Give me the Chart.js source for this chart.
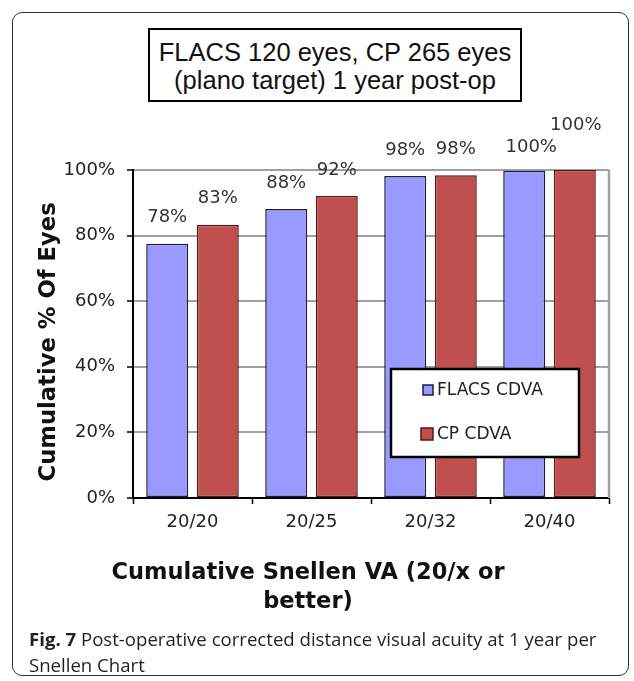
<!DOCTYPE html>
<html>
<head>
<meta charset="utf-8">
<script src="https://cdn.jsdelivr.net/npm/chart.js@4"></script>
<style>
  html, body { margin: 0; padding: 0; background: #fff; }
  body { width: 634px; height: 681px; position: relative; overflow: hidden; }
  #c { position: absolute; left: 0; top: 0; }
  #frame { position: absolute; left: 12px; top: 12px; width: 617px; height: 664px;
           border: 1.5px solid #333; border-radius: 10px; box-sizing: border-box; }
  #titlebox { position: absolute; left: 148px; top: 28px; width: 374px; height: 74px;
              box-sizing: border-box; border: 2px solid #000; background: #fff;
              font-family: "Liberation Sans", Arial, sans-serif; font-size: 25.5px;
              line-height: 28px; text-align: center; padding-top: 8px; color: #111; white-space: nowrap; }
  #caption { position: absolute; left: 29px; top: 626px; width: 600px;
             font-family: "Open Sans", sans-serif; font-size: 18.6px; line-height: 26px; color: #231f20; }
</style>
</head>
<body>
<canvas id="c" width="634" height="681" style="width:634px;height:681px"></canvas>
<div id="frame"></div>
<div id="titlebox">FLACS 120 eyes, CP 265 eyes<br>(plano target) 1 year post-op</div>
<div id="caption"><b>Fig. 7</b> Post-operative corrected distance visual acuity at 1 year per<br>Snellen Chart</div>
<script>
const categories = ["20/20", "20/25", "20/32", "20/40"];
const seriesNames = ["FLACS CDVA", "CP CDVA"];
const flacsValues = [77.5, 88.1, 98.2, 99.8];
const cpValues = [83.3, 92.1, 98.4, 100];
const yTickValues = [0, 20, 40, 60, 80, 100];

Chart.defaults.font.family = "'DejaVu Sans', Verdana, sans-serif";
Chart.defaults.color = '#222';

const labelNudge = [
  [[0, 0], [0, 0], [0, 0], [7, 3]],
  [[0, 0], [0, 0], [0, 0], [1, -19]]
];

const dataLabels = {
  id: 'dataLabels',
  afterDatasetsDraw(chart) {
    const ctx = chart.ctx;
    ctx.save();
    ctx.font = "18px 'DejaVu Sans'";
    ctx.fillStyle = '#333';
    ctx.textAlign = 'center';
    ctx.textBaseline = 'middle';
    chart.data.datasets.forEach((ds, di) => {
      const meta = chart.getDatasetMeta(di);
      meta.data.forEach((el, i) => {
        const n = labelNudge[di][i];
        ctx.fillText(Math.round(ds.data[i]) + '%', el.x + n[0], el.y - 26 + n[1]);
      });
    });
    ctx.restore();
  }
};

const frameLines = {
  id: 'frameLines',
  beforeDatasetsDraw(chart) {
    const {ctx, chartArea: a} = chart;
    ctx.save();
    ctx.strokeStyle = '#a0a0a0';
    ctx.lineWidth = 2.5;
    ctx.beginPath();
    ctx.moveTo(a.right, a.top);
    ctx.lineTo(a.right, a.bottom);
    ctx.stroke();
    ctx.restore();
  }
};

const boxLegend = {
  id: 'boxLegend',
  afterDraw(chart) {
    const ctx = chart.ctx;
    ctx.save();
    ctx.fillStyle = '#fff';
    ctx.fillRect(391, 369, 188, 88);
    ctx.strokeStyle = '#000';
    ctx.lineWidth = 2.5;
    ctx.strokeRect(391, 369, 188, 88);
    const rows = [390, 434];
    const sq = [10, 12];
    chart.data.datasets.forEach((ds, i) => {
      const s = sq[i];
      const cy = rows[i];
      ctx.fillStyle = ds.backgroundColor;
      ctx.fillRect(433 - s, cy - s / 2, s, s);
      ctx.strokeStyle = ds.borderColor;
      ctx.lineWidth = 1.5;
      ctx.strokeRect(433 - s, cy - s / 2, s, s);
      ctx.fillStyle = '#222';
      ctx.font = "17px 'DejaVu Sans'";
      ctx.textAlign = 'left';
      ctx.textBaseline = 'middle';
      ctx.fillText(ds.label, 437, cy + 1);
    });
    ctx.restore();
  }
};

new Chart(document.getElementById('c'), {
  type: 'bar',
  data: {
    labels: categories,
    datasets: [
      { label: seriesNames[0], data: flacsValues, backgroundColor: '#9999ff', borderColor: '#1c1c3c',
        borderWidth: 1.5, borderSkipped: false, categoryPercentage: 0.85, barPercentage: 0.83 },
      { label: seriesNames[1], data: cpValues, backgroundColor: '#c0504d', borderColor: '#5a1414',
        borderWidth: 1.5, borderSkipped: false, categoryPercentage: 0.85, barPercentage: 0.83 }
    ]
  },
  options: {
    responsive: false,
    animation: false,
    devicePixelRatio: 1,
    layout: { padding: { left: 7, right: 25, top: 170, bottom: 64.5 } },
    plugins: {
      legend: { display: false },
      tooltip: { enabled: false },
      title: {
        display: true,
        position: 'bottom',
        text: ['Cumulative Snellen VA (20/x or', 'better)'],
        font: { size: 22.5, weight: 'bold', family: "'DejaVu Sans'", lineHeight: 29 / 22.5 },
        color: '#111',
        padding: { top: 20.5, bottom: 0 }
      }
    },
    scales: {
      x: {
        afterFit(s) { s.height = 40; },
        grid: { display: true, drawOnChartArea: false, drawTicks: true, tickLength: 6,
                tickColor: '#000', tickWidth: 1.5, offset: true },
        border: { color: '#000', width: 2 },
        ticks: { font: { size: 18 }, color: '#222', padding: 8 }
      },
      y: {
        min: 0, max: 100,
        afterFit(s) { s.width = 126; },
        afterBuildTicks(s) { s.ticks = yTickValues.map(v => ({ value: v })); },
        grid: { color: '#a0a0a0', lineWidth: 2, tickColor: '#000', tickWidth: 1.5, tickLength: 6 },
        border: { color: '#000', width: 2 },
        ticks: { font: { size: 18 }, color: '#222', padding: 12, callback: v => v + '%' },
        title: {
          display: true,
          text: 'Cumulative % Of Eyes\u00a0\u00a0',
          font: { size: 22.7, weight: 'bold' },
          color: '#111',
          padding: { top: 28.8, bottom: 0 }
        }
      }
    }
  },
  plugins: [frameLines, dataLabels, boxLegend]
});
</script>
</body>
</html>
